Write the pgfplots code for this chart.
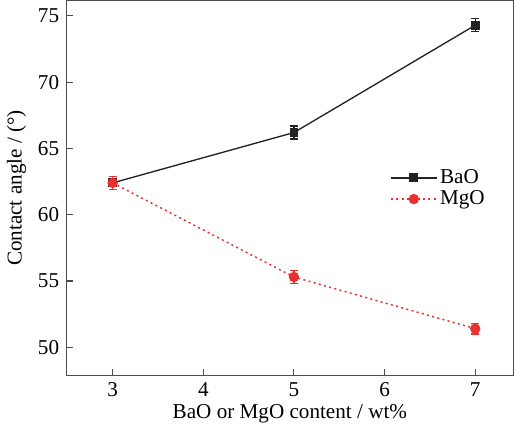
\documentclass[border=0pt]{standalone}
\usepackage{pgfplots}
\pgfplotsset{compat=1.18}
\usepackage{fontspec}
\setmainfont{Liberation Serif}
\definecolor{bao}{HTML}{222222}
\definecolor{mgo}{HTML}{E8302F}
\begin{document}
\fontsize{15.8}{18}\selectfont
\begin{tikzpicture}
\begin{axis}[
  scale only axis,
  width=334pt, height=280pt,
  xmin=2.49, xmax=7.42, ymin=47.88, ymax=76.15,
  xtick={3,4,5,6,7}, ytick={50,55,60,65,70,75},
  tick pos=left, tick align=inside,
  major tick length=5pt,
  axis line style={line width=1pt, draw=black!70},
  tick style={line width=0.8pt, black!70},
  /pgf/number format/assume math mode=true,
  ticklabel style={font=\fontsize{15.8}{18}\selectfont},
  label style={font=\fontsize{15.8}{18}\selectfont},
  xlabel={BaO or MgO content / wt\%},
  ylabel={Contact angle / (°)},
  xlabel style={yshift=5pt},
  ylabel style={yshift=-2pt},
  legend style={draw=none, fill=none, at={(0.715,0.565)}, anchor=north west, font=\fontsize{15.8}{18}\selectfont, row sep=-1pt},
  legend cell align=left,
  legend image code/.code={
    \draw[#1, mark repeat=2, mark phase=2] plot coordinates {(0cm,0cm) (0.6cm,0cm) (1.2cm,0cm)};
  },
]
\addplot[color=bao, line width=1pt, mark=square*, mark size=2.8pt,
  error bars/.cd, y dir=both, y explicit, error bar style={line width=1pt}, error mark options={rotate=90, mark size=3pt, line width=1pt}]
  coordinates {(3,62.4) +- (0,0.5) (5,66.2) +- (0,0.5) (7,74.3) +- (0,0.5)};
\addlegendentry{BaO}
\addplot[color=mgo, line width=1.1pt, dash pattern=on 1.5pt off 2.5pt, mark=*, mark size=3.3pt, mark options={solid},
  error bars/.cd, y dir=both, y explicit, error bar style={line width=1pt, solid}, error mark options={rotate=90, mark size=3pt, line width=1pt, solid}]
  coordinates {(3,62.4) +- (0,0.5) (5,55.3) +- (0,0.5) (7,51.4) +- (0,0.4)};
\addlegendentry{MgO}
\end{axis}
\end{tikzpicture}
\end{document}
